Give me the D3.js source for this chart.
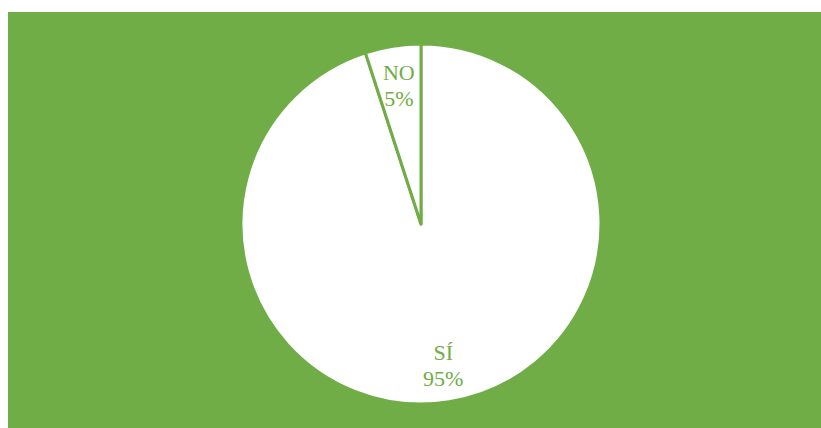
<!DOCTYPE html>
<html>
<head>
<meta charset="utf-8">
<script src="https://cdn.jsdelivr.net/npm/d3@7"></script>
<style>
  html, body { margin: 0; padding: 0; background: #ffffff; }
  svg { display: block; }
</style>
</head>
<body>
<svg id="chart" width="821" height="428"></svg>
<script>
// Answers and their shares (percent)
const categories = ["SÍ", "NO"];
const values = [95, 5];

const green = "#70AD47";
const svg = d3.select("#chart");
const W = 821, H = 428;

// Chart area background
svg.append("rect")
  .attr("x", 8).attr("y", 12)
  .attr("width", W - 8).attr("height", H - 12)
  .attr("fill", green);

const cx = 421, cy = 224, radius = 180;
const g = svg.append("g").attr("transform", `translate(${cx},${cy})`);

const data = categories.map((c, i) => ({ label: c, value: values[i] }));
const pie = d3.pie().value(d => d.value).sort(null);
const arc = d3.arc().innerRadius(0).outerRadius(radius);
const labelArc = d3.arc().innerRadius(142).outerRadius(142);

const arcs = pie(data);

g.selectAll("path.slice")
  .data(arcs)
  .join("path")
  .attr("class", "slice")
  .attr("d", arc)
  .attr("fill", "#ffffff")
  .attr("stroke", green)
  .attr("stroke-width", 3)
  .attr("stroke-linejoin", "round");

const labels = g.selectAll("text.lbl")
  .data(arcs)
  .join("text")
  .attr("class", "lbl")
  .attr("text-anchor", "middle")
  .attr("font-family", "'Liberation Serif', 'Times New Roman', serif")
  .attr("font-size", 22)
  .attr("fill", green)
  .attr("transform", d => {
    const [x, y] = labelArc.centroid(d);
    return `translate(${x},${y})`;
  });

labels.append("tspan")
  .attr("x", 0).attr("y", -4)
  .text(d => d.data.label);
labels.append("tspan")
  .attr("x", 0).attr("y", 22)
  .text(d => d.data.value + "%");
</script>
</body>
</html>
